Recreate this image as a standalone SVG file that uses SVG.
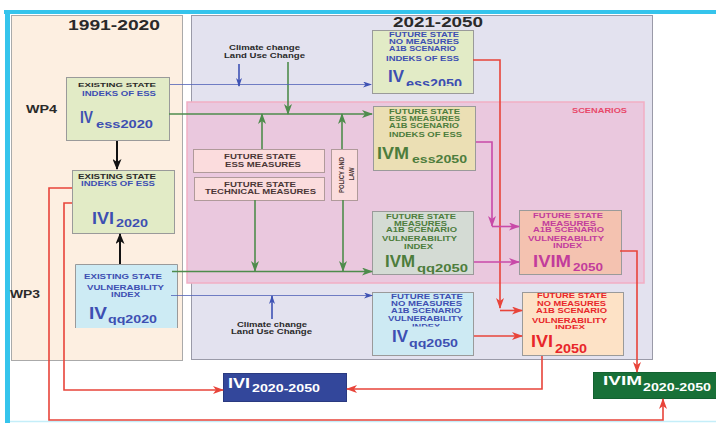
<svg xmlns="http://www.w3.org/2000/svg" width="716" height="423" viewBox="0 0 716 423">
<style>
text{font-family:"Liberation Sans",Arial,sans-serif;font-weight:bold}
.s{font-size:7px}
.b{fill:#3d4fb2}
.g{fill:#4d7d3c}
.m{fill:#c23c9c}
.r{fill:#e8262a}
.k{fill:#2a2a2a}
.big{font-size:16px}
.sub{font-size:11px}
.box{stroke:#9a9a9a;stroke-width:1}
.sbox{fill:#fbdcdd;stroke:#b09a9a;stroke-width:1}
.cg{fill:none;stroke:#4e8c4c;stroke-width:1.6}
.cb{fill:none;stroke:#5262b8;stroke-width:0.8}
.cbt{fill:none;stroke:#3e52b4;stroke-width:1.6}
.cr{fill:none;stroke:#e8443a;stroke-width:1.6}
.cm{fill:none;stroke:#c84aa8;stroke-width:1.6}
.ck{fill:none;stroke:#111;stroke-width:2}
</style>
<defs>
<marker id="aG" markerWidth="11" markerHeight="8" refX="10" refY="4" orient="auto" markerUnits="userSpaceOnUse"><path d="M0,0 L11,4 L0,8 L3,4 z" fill="#4e8c4c"/></marker>
<marker id="aB" markerWidth="9" markerHeight="6" refX="8" refY="3" orient="auto" markerUnits="userSpaceOnUse"><path d="M0,0 L9,3 L0,6 L2.5,3 z" fill="#3e52b4"/></marker>
<marker id="aR" markerWidth="11" markerHeight="8" refX="10" refY="4" orient="auto" markerUnits="userSpaceOnUse"><path d="M0,0 L11,4 L0,8 L3,4 z" fill="#e8443a"/></marker>
<marker id="aM" markerWidth="11" markerHeight="8" refX="10" refY="4" orient="auto" markerUnits="userSpaceOnUse"><path d="M0,0 L11,4 L0,8 L3,4 z" fill="#c84aa8"/></marker>
<marker id="aK" markerWidth="11" markerHeight="9" refX="10" refY="4.5" orient="auto" markerUnits="userSpaceOnUse"><path d="M0,0 L11,4.5 L0,9 L3,4.5 z" fill="#111"/></marker>
<clipPath id="c1"><rect x="372" y="30" width="102" height="56"/></clipPath>
<clipPath id="c2"><rect x="372" y="293" width="102" height="33.5"/></clipPath>
</defs>
<rect width="716" height="423" fill="#ffffff"/>
<rect x="4" y="10" width="712" height="4" fill="#35c4ec"/>
<rect x="5" y="10" width="5" height="413" fill="#35c4ec"/>
<line x1="10" y1="421.5" x2="716" y2="421.5" stroke="#c4eef9" stroke-width="1.5"/>
<rect x="11.5" y="15.5" width="171" height="345" fill="#fdefe1" stroke="#aaaaaa"/>
<rect x="191.5" y="15.5" width="461" height="344" fill="#e3e2ef" stroke="#9a9aa8"/>
<rect x="187" y="102" width="457" height="181" fill="#eac8de" stroke="#f2aec4" stroke-width="1.5"/>
<text x="68" y="30" textLength="92" lengthAdjust="spacingAndGlyphs" style="font-size:15px" class="k">1991-2020</text>
<text x="393" y="27" textLength="90" lengthAdjust="spacingAndGlyphs" style="font-size:15px" class="k">2021-2050</text>
<text x="26" y="113" textLength="31" lengthAdjust="spacingAndGlyphs" style="font-size:10px" class="k">WP4</text>
<text x="10" y="298" textLength="30" lengthAdjust="spacingAndGlyphs" style="font-size:10px" class="k">WP3</text>
<text x="572" y="113" textLength="55" lengthAdjust="spacingAndGlyphs" class="s" fill="#e8486a">SCENARIOS</text>
<text x="229" y="50" textLength="71" lengthAdjust="spacingAndGlyphs" style="font-size:6.5px" class="k">Climate change</text>
<text x="224" y="57.5" textLength="81" lengthAdjust="spacingAndGlyphs" style="font-size:8px" class="k">Land Use Change</text>
<text x="237" y="326.5" textLength="70" lengthAdjust="spacingAndGlyphs" style="font-size:7px" class="k">Climate change</text>
<text x="231" y="334" textLength="81" lengthAdjust="spacingAndGlyphs" style="font-size:7px" class="k">Land Use Change</text>

<g id="n_IVess2020">
<rect x="66.5" y="77.5" width="103" height="63" fill="#e2ebc6" class="box"/>
<text x="78" y="87" textLength="78" lengthAdjust="spacingAndGlyphs" style="font-size:6px" class="k">EXISTING STATE</text>
<text x="82" y="96" textLength="74" lengthAdjust="spacingAndGlyphs" class="s b">INDEKS OF ESS</text>
<text x="80" y="123" textLength="13" lengthAdjust="spacingAndGlyphs" class="big b">IV</text>
<text x="96" y="128" textLength="57" lengthAdjust="spacingAndGlyphs" class="sub b">ess2020</text>
</g>
<g id="n_IVI2020">
<rect x="72.5" y="170.5" width="102" height="63" fill="#e2ebc6" class="box"/>
<text x="78" y="179" textLength="78" lengthAdjust="spacingAndGlyphs" class="s k">EXISTING STATE</text>
<text x="81" y="186" textLength="74" lengthAdjust="spacingAndGlyphs" class="s b">INDEKS OF ESS</text>
<text x="92" y="224" textLength="22" lengthAdjust="spacingAndGlyphs" class="big b">IVI</text>
<text x="116" y="227" textLength="32" lengthAdjust="spacingAndGlyphs" class="sub b">2020</text>
</g>
<g id="n_IVqq2020">
<rect x="75" y="264" width="103" height="64" fill="#cdebf4"/>
<path d="M75.5,328 V264.5 H177.5 V328" fill="none" stroke="#9a9a9a"/>
<text x="84" y="279" textLength="78" lengthAdjust="spacingAndGlyphs" class="s b">EXISTING STATE</text>
<text x="87" y="290" textLength="77" lengthAdjust="spacingAndGlyphs" class="s b">VULNERABILITY</text>
<text x="111" y="297" textLength="29" lengthAdjust="spacingAndGlyphs" class="s b">INDEX</text>
<text x="89" y="319" textLength="18" lengthAdjust="spacingAndGlyphs" class="big b">IV</text>
<text x="108" y="323" textLength="49" lengthAdjust="spacingAndGlyphs" class="sub b">qq2020</text>
</g>
<g id="n_IVess2050">
<rect x="372.5" y="30.5" width="101" height="63" fill="#e2ebc6" class="box"/>
<text x="389" y="37" textLength="70" lengthAdjust="spacingAndGlyphs" class="s b">FUTURE STATE</text>
<text x="389" y="44" textLength="70" lengthAdjust="spacingAndGlyphs" class="s b">NO MEASURES</text>
<text x="389" y="51" textLength="67" lengthAdjust="spacingAndGlyphs" style="font-size:6.5px" class="b">A1B SCENARIO</text>
<text x="386" y="61" textLength="73" lengthAdjust="spacingAndGlyphs" class="s b">INDEKS OF ESS</text>
<text x="388" y="82" textLength="16" lengthAdjust="spacingAndGlyphs" class="big b">IV</text>
<text x="406" y="88" textLength="56" lengthAdjust="spacingAndGlyphs" clip-path="url(#c1)" style="font-size:12px" class="b">ess2050</text>
</g>
<g id="n_IVMess2050">
<rect x="373.5" y="106.5" width="102" height="64" fill="#ebdfb4" class="box"/>
<text x="389" y="114" textLength="71" lengthAdjust="spacingAndGlyphs" class="s g">FUTURE STATE</text>
<text x="389" y="121" textLength="71" lengthAdjust="spacingAndGlyphs" style="font-size:6.5px" class="g">ESS MEASURES</text>
<text x="389" y="128" textLength="70" lengthAdjust="spacingAndGlyphs" class="s g">A1B SCENARIO</text>
<text x="389" y="137" textLength="73" lengthAdjust="spacingAndGlyphs" class="s g">INDEKS OF ESS</text>
<text x="377" y="159" textLength="32" lengthAdjust="spacingAndGlyphs" class="big g">IVM</text>
<text x="412" y="163" textLength="55" lengthAdjust="spacingAndGlyphs" class="sub g">ess2050</text>
</g>
<g id="n_IVMqq2050">
<rect x="372.5" y="211.5" width="101" height="63" fill="#d4dbd4" class="box"/>
<text x="386" y="219" textLength="70" lengthAdjust="spacingAndGlyphs" class="s g">FUTURE STATE</text>
<text x="394" y="226" textLength="53" lengthAdjust="spacingAndGlyphs" class="s g">MEASURES</text>
<text x="386" y="232" textLength="71" lengthAdjust="spacingAndGlyphs" class="s g">A1B SCENARIO</text>
<text x="382" y="241" textLength="75" lengthAdjust="spacingAndGlyphs" class="s g">VULNERABILITY</text>
<text x="404" y="249" textLength="29" lengthAdjust="spacingAndGlyphs" class="s g">INDEX</text>
<text x="385" y="267" textLength="30" lengthAdjust="spacingAndGlyphs" class="big g">IVM</text>
<text x="417" y="272" textLength="51" lengthAdjust="spacingAndGlyphs" class="sub g">qq2050</text>
</g>
<g id="n_IVqq2050">
<rect x="372.5" y="292.5" width="101" height="63" fill="#cdeaf3" class="box"/>
<g clip-path="url(#c2)">
<text x="391" y="298.5" textLength="72" lengthAdjust="spacingAndGlyphs" class="s b">FUTURE STATE</text>
<text x="391" y="306" textLength="71" lengthAdjust="spacingAndGlyphs" class="s b">NO MEASURES</text>
<text x="391" y="313" textLength="70" lengthAdjust="spacingAndGlyphs" class="s b">A1B SCENARIO</text>
<text x="388" y="321" textLength="75" lengthAdjust="spacingAndGlyphs" class="s b">VULNERABILITY</text>
<text x="412" y="329" textLength="28" lengthAdjust="spacingAndGlyphs" class="s b">INDEX</text>
</g>
<text x="392" y="342" textLength="16" lengthAdjust="spacingAndGlyphs" class="big b">IV</text>
<text x="409" y="347" textLength="49" lengthAdjust="spacingAndGlyphs" class="sub b">qq2050</text>
</g>
<g id="n_IVIM2050">
<rect x="519.5" y="210.5" width="102" height="64" fill="#f4c2b0" class="box"/>
<text x="533" y="218" textLength="70" lengthAdjust="spacingAndGlyphs" class="s m">FUTURE STATE</text>
<text x="542" y="226" textLength="54" lengthAdjust="spacingAndGlyphs" class="s m">MEASURES</text>
<text x="533" y="232" textLength="71" lengthAdjust="spacingAndGlyphs" class="s m">A1B SCENARIO</text>
<text x="528" y="241" textLength="76" lengthAdjust="spacingAndGlyphs" class="s m">VULNERABILITY</text>
<text x="553" y="248" textLength="29" lengthAdjust="spacingAndGlyphs" class="s m">INDEX</text>
<text x="533" y="267" textLength="38" lengthAdjust="spacingAndGlyphs" class="big m">IVIM</text>
<text x="573" y="271" textLength="30" lengthAdjust="spacingAndGlyphs" class="sub m">2050</text>
</g>
<g id="n_IVI2050">
<rect x="522.5" y="292.5" width="101" height="63" fill="#fde2c6" class="box"/>
<text x="537" y="298" textLength="70" lengthAdjust="spacingAndGlyphs" class="s r">FUTURE STATE</text>
<text x="537" y="306" textLength="69" lengthAdjust="spacingAndGlyphs" class="s r">NO MEASURES</text>
<text x="536" y="313" textLength="71" lengthAdjust="spacingAndGlyphs" class="s r">A1B SCENARIO</text>
<text x="532" y="323" textLength="75" lengthAdjust="spacingAndGlyphs" class="s r">VULNERABILITY</text>
<text x="555" y="328.5" textLength="30" lengthAdjust="spacingAndGlyphs" style="font-size:5px" class="r">INDEX</text>
<text x="531" y="347" textLength="22" lengthAdjust="spacingAndGlyphs" class="big r">IVI</text>
<text x="555" y="353" textLength="32" lengthAdjust="spacingAndGlyphs" style="font-size:12px" class="r">2050</text>
</g>
<g id="n_essMeasures">
<rect x="193.5" y="149.5" width="131" height="23" class="sbox"/>
<text x="224" y="159" textLength="72" lengthAdjust="spacingAndGlyphs" class="s" fill="#4a3636">FUTURE STATE</text>
<text x="225" y="166.5" textLength="76" lengthAdjust="spacingAndGlyphs" class="s" fill="#4a3636">ESS MEASURES</text>
</g>
<g id="n_techMeasures">
<rect x="194.5" y="177.5" width="130" height="23" class="sbox"/>
<text x="224" y="187" textLength="72" lengthAdjust="spacingAndGlyphs" class="s" fill="#4a3636">FUTURE STATE</text>
<text x="205" y="194" textLength="111" lengthAdjust="spacingAndGlyphs" class="s" fill="#4a3636">TECHNICAL MEASURES</text>
</g>
<g id="n_policy">
<rect x="331.5" y="149.5" width="26" height="51" class="sbox"/>
<text transform="translate(343.5,175) rotate(-90)" text-anchor="middle" textLength="36" lengthAdjust="spacingAndGlyphs" style="font-size:8px" fill="#4a3636">POLICY AND</text>
<text transform="translate(353.5,174) rotate(-90)" text-anchor="middle" textLength="13" lengthAdjust="spacingAndGlyphs" style="font-size:8px" fill="#4a3636">LAW</text>
</g>
<g id="n_IVI2020_2050">
<rect x="223.5" y="373.5" width="123" height="28" fill="#33479b" stroke="#2a3a80"/>
<text x="228" y="388" textLength="22" lengthAdjust="spacingAndGlyphs" style="font-size:14px" fill="#ffffff">IVI</text>
<text x="252" y="392" textLength="68" lengthAdjust="spacingAndGlyphs" style="font-size:10px" fill="#ffffff">2020-2050</text>
</g>
<g id="n_IVIM2020_2050">
<rect x="593.5" y="372.5" width="124" height="26" fill="#187038" stroke="#136030"/>
<text x="603" y="385" textLength="39" lengthAdjust="spacingAndGlyphs" style="font-size:13px" fill="#ffffff">IVIM</text>
<text x="643" y="391" textLength="68" lengthAdjust="spacingAndGlyphs" style="font-size:10px" fill="#ffffff">2020-2050</text>
</g>

<g id="connectors">
<path class="ck" d="M117,141 V169" marker-end="url(#aK)"/>
<path class="ck" d="M120,264 V234" marker-end="url(#aK)"/>
<path class="cg" d="M169,114 H372" marker-end="url(#aG)"/>
<path class="cg" d="M288,62 V114" marker-end="url(#aG)"/>
<path class="cg" d="M262,149 V114" marker-end="url(#aG)"/>
<path class="cg" d="M342,149 V114" marker-end="url(#aG)"/>
<path class="cg" d="M172,271.5 H372" marker-end="url(#aG)"/>
<path class="cg" d="M255,200 V271" marker-end="url(#aG)"/>
<path class="cg" d="M343,200 V271" marker-end="url(#aG)"/>
<path class="cb" d="M170,84.5 H371" marker-end="url(#aB)"/>
<path class="cbt" d="M239,64 V86" marker-end="url(#aB)"/>
<path class="cb" d="M171,295.5 H372" marker-end="url(#aB)"/>
<path class="cbt" d="M272,319 V296" marker-end="url(#aB)"/>
<path class="cr" d="M473,60 H500 V308" marker-end="url(#aR)"/>
<path class="cr" d="M500,310.5 H522" marker-end="url(#aR)"/>
<path class="cr" d="M474,336 H522" marker-end="url(#aR)"/>
<path class="cr" d="M620,251 H637 V372" marker-end="url(#aR)"/>
<path class="cr" d="M542,356 V389 H347" marker-end="url(#aR)"/>
<path class="cr" d="M72,188 H49 V420 H663 V399" marker-end="url(#aR)"/>
<path class="cr" d="M72,203 H64 V390 H223" marker-end="url(#aR)"/>
<path class="cm" d="M476,142 H492 V226" marker-end="url(#aM)"/>
<path class="cm" d="M492,226.5 H519" stroke-width="1" marker-end="url(#aM)"/>
<path class="cm" d="M474,262 H519" marker-end="url(#aM)"/>
</g>
</svg>
